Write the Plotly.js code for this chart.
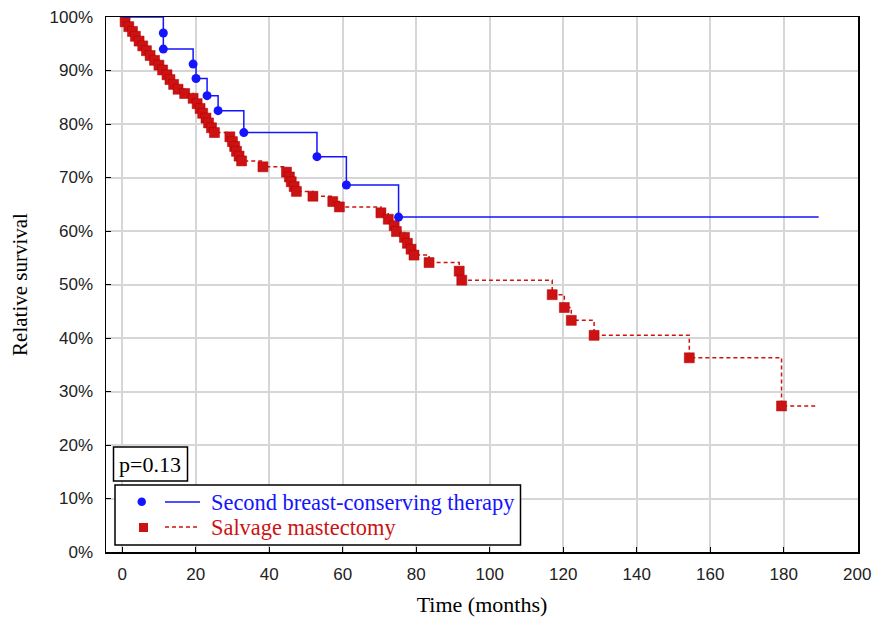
<!DOCTYPE html>
<html><head><meta charset="utf-8">
<script src="https://cdn.plot.ly/plotly-3.0.1.min.js"></script>
<style>body{margin:0;background:#fff}</style>
</head><body>
<div id="chart" style="width:875px;height:619px"></div>
<script>
// Second breast-conserving therapy (event times in months, survival)
const bctTime = [0, 11.2, 11.2, 19.3, 20.1, 23.1, 26.1, 33.1, 53.0, 61.0, 75.2, 189.5];
const bctSurv = [1, 0.970, 0.940, 0.912, 0.885, 0.853, 0.825, 0.784, 0.739, 0.686, 0.626, 0.626];

// Salvage mastectomy
const smTime = [0, 0.8, 1.8, 2.8, 3.6, 4.6, 5.6, 6.6, 7.6, 8.8, 10.0, 11.0, 12.2, 13.0, 14.0, 15.2, 17.0,
  19.3, 20.4, 21.2, 21.9, 22.8, 23.5, 24.3, 25.1,
  29.3, 30.0, 30.6, 31.1, 31.8, 32.5, 38.3,
  44.7, 45.5, 46.0, 46.8, 47.4, 51.9, 57.3, 59.1,
  70.4, 72.4, 74.0, 74.6, 76.8, 77.6, 78.6, 79.4, 83.5,
  91.7, 92.4, 117.0, 120.3, 122.2, 128.4, 154.3, 179.4, 189.0];
const smSurv = [1, 0.991, 0.982, 0.973, 0.964, 0.955, 0.946, 0.937, 0.928, 0.919, 0.910, 0.901, 0.892, 0.883, 0.874, 0.865, 0.857,
  0.848, 0.838, 0.829, 0.820, 0.811, 0.802, 0.793, 0.784,
  0.776, 0.767, 0.758, 0.749, 0.740, 0.731, 0.720,
  0.710, 0.701, 0.692, 0.683, 0.674, 0.665, 0.655, 0.645,
  0.634, 0.622, 0.610, 0.599, 0.588, 0.577, 0.566, 0.555, 0.541,
  0.525, 0.508, 0.481, 0.457, 0.433, 0.405, 0.363, 0.273, 0.273];

const xTicks = [0, 20, 40, 60, 80, 100, 120, 140, 160, 180, 200];
const yTicks = [0, 0.1, 0.2, 0.3, 0.4, 0.5, 0.6, 0.7, 0.8, 0.9, 1.0];

const seriesNames = ['Second breast-conserving therapy', 'Salvage mastectomy'];
const pText = 'p=0.13';

const BLUE = '#1414ff';
const RED = '#cc1212';

const traces = [
  {x: smTime, y: smSurv, type: 'scatter', mode: 'lines', line: {shape: 'hv', color: RED, width: 1.5, dash: '4px,3px'}, hoverinfo: 'skip', showlegend: false},
  {x: smTime.slice(1, -1), y: smSurv.slice(1, -1), type: 'scatter', mode: 'markers', marker: {symbol: 'square', size: 10, color: RED, line: {color: '#b00000', width: 0.5}}, showlegend: false},
  {x: bctTime, y: bctSurv, type: 'scatter', mode: 'lines', line: {shape: 'hv', color: BLUE, width: 1.5}, hoverinfo: 'skip', showlegend: false},
  {x: bctTime.slice(1, -1), y: bctSurv.slice(1, -1), type: 'scatter', mode: 'markers', marker: {symbol: 'circle', size: 9, color: BLUE}, showlegend: false}
];

// pixel -> paper helpers for the legend decorations
const L = 106, R = 858, T = 17, B = 552;
const px = v => (v - L) / (R - L);
const py = v => (B - v) / (B - T);

const serif = 'Liberation Serif, Times New Roman, serif';
const narrow = 'Liberation Sans Narrow, Arial Narrow, Liberation Sans, Arial, sans-serif';

const shapes = [
  {type: 'rect', xref: 'paper', yref: 'paper', x0: px(113.5), x1: px(187.5), y0: py(481), y1: py(447), line: {color: '#000', width: 1.5}, fillcolor: '#fff', layer: 'above'},
  {type: 'rect', xref: 'paper', yref: 'paper', x0: px(115), x1: px(520.5), y0: py(545), y1: py(485), line: {color: '#000', width: 1.5}, fillcolor: '#fff', layer: 'above'},
  {type: 'circle', xref: 'paper', yref: 'paper', x0: px(137.5), x1: px(146), y0: py(506), y1: py(497.5), line: {color: BLUE, width: 0}, fillcolor: BLUE, layer: 'above'},
  {type: 'line', xref: 'paper', yref: 'paper', x0: px(165), x1: px(200), y0: py(502), y1: py(502), line: {color: BLUE, width: 1.5}, layer: 'above'},
  {type: 'rect', xref: 'paper', yref: 'paper', x0: px(139), x1: px(148), y0: py(532), y1: py(523), line: {color: RED, width: 0}, fillcolor: RED, layer: 'above'},
  {type: 'line', xref: 'paper', yref: 'paper', x0: px(165), x1: px(200), y0: py(527), y1: py(527), line: {color: RED, width: 1.5, dash: '4px,3px'}, layer: 'above'}
];

const annotations = [
  {xref: 'paper', yref: 'paper', x: px(117), y: py(464), xanchor: 'left', yanchor: 'middle', text: pText, showarrow: false, font: {family: serif, size: 22, color: '#000'}},
  {xref: 'paper', yref: 'paper', x: px(209), y: py(502), xanchor: 'left', yanchor: 'middle', text: seriesNames[0], showarrow: false, font: {family: serif, size: 22.4, color: BLUE}},
  {xref: 'paper', yref: 'paper', x: px(209), y: py(527), xanchor: 'left', yanchor: 'middle', text: seriesNames[1], showarrow: false, font: {family: serif, size: 22.4, color: RED}}
];

const layout = {
  width: 875, height: 619,
  margin: {l: L, r: 875 - R, t: T, b: 619 - B},
  paper_bgcolor: '#fff', plot_bgcolor: '#fff',
  showlegend: false,
  xaxis: {
    range: [-4.4, 200.2], tickvals: xTicks, ticktext: xTicks.map(String),
    showgrid: true, gridcolor: '#d6d6d6', gridwidth: 2, zeroline: false,
    showline: true, linecolor: '#000', linewidth: 1.5, mirror: true,
    ticks: 'inside', ticklen: 5, tickcolor: '#000', tickwidth: 1,
    tickfont: {family: narrow, size: 17, color: '#222'}, ticklabelstandoff: 6,
    title: {text: 'Time (months)', font: {family: serif, size: 22, color: '#000'}, standoff: 13}
  },
  yaxis: {
    range: [0, 1], tickvals: yTicks, tickformat: '.0%',
    showgrid: true, gridcolor: '#d6d6d6', gridwidth: 2, zeroline: false,
    showline: true, linecolor: '#000', linewidth: 1.5, mirror: true,
    ticks: 'inside', ticklen: 5, tickcolor: '#000', tickwidth: 1,
    tickfont: {family: narrow, size: 17, color: '#222'}, ticklabelstandoff: 8,
    title: {text: 'Relative survival', font: {family: serif, size: 21, color: '#000'}, standoff: 16}
  },
  shapes: shapes,
  annotations: annotations
};

Plotly.newPlot('chart', traces, layout, {displayModeBar: false, staticPlot: true});
</script>
</body></html>
